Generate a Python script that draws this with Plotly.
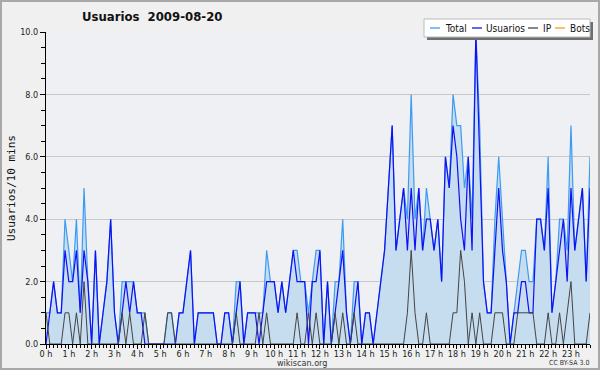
import plotly.graph_objects as go

# ---- data (10-minute slots, 0h00 .. 23h50) ----
slots = list(range(144))
hour_ticks = [0, 6, 12, 18, 24, 30, 36, 42, 48, 54, 60, 66, 72, 78, 84, 90, 96, 102, 108, 114, 120, 126, 132, 138]
hour_labels = ["0 h", "1 h", "2 h", "3 h", "4 h", "5 h", "6 h", "7 h", "8 h", "9 h", "10 h", "11 h",
               "12 h", "13 h", "14 h", "15 h", "16 h", "17 h", "18 h", "19 h", "20 h", "21 h", "22 h", "23 h"]

total = [1, 1, 2, 1, 1, 4, 3, 2, 4, 1, 5, 2, 0, 3, 0, 1, 2, 4, 1, 0,
         2, 2, 2, 2, 1, 1, 1, 0, 0, 0, 0, 0, 1, 1, 0, 1, 1, 2, 3, 0,
         1, 1, 1, 1, 1, 0, 0, 1, 1, 0, 2, 2, 0, 1, 1, 1, 1, 1, 3, 2,
         2, 1, 2, 1, 2, 3, 3, 2, 2, 1, 2, 3, 3, 0, 2, 0, 2, 2, 4, 1,
         0, 2, 2, 0, 1, 1, 0, 1, 2, 3, 5, 7, 3, 4, 5, 4, 8, 4, 5, 3,
         5, 4, 3, 4, 2, 6, 5, 8, 7, 7, 5, 6, 4, 10, 7, 2, 1, 1, 4, 6,
         4, 2, 0, 1, 2, 3, 3, 2, 2, 4, 4, 3, 6, 1, 2, 4, 4, 3, 7, 3,
         4, 5, 2, 6]
usuarios = [0, 1, 2, 1, 1, 3, 2, 2, 3, 1, 3, 2, 0, 3, 0, 1, 2, 4, 1, 0,
            1, 2, 1, 2, 1, 1, 0, 0, 0, 0, 0, 0, 0, 0, 0, 1, 1, 2, 3, 0,
            1, 1, 1, 1, 1, 0, 0, 1, 1, 0, 1, 2, 0, 1, 1, 1, 0, 1, 2, 2,
            2, 1, 2, 1, 2, 3, 2, 2, 2, 0, 2, 2, 3, 0, 2, 0, 1, 2, 3, 1,
            0, 1, 2, 0, 1, 1, 0, 1, 2, 3, 5, 7, 3, 4, 5, 3, 5, 3, 5, 3,
            4, 4, 3, 4, 2, 6, 5, 7, 6, 4, 3, 6, 3, 10, 6, 2, 1, 1, 3, 5,
            3, 2, 0, 1, 1, 2, 2, 1, 1, 4, 4, 3, 5, 1, 2, 3, 4, 2, 5, 3,
            4, 5, 2, 5]
ip = [1, 0, 0, 0, 0, 1, 1, 0, 1, 0, 2, 0, 0, 0, 0, 0, 0, 0, 0, 0,
      1, 0, 1, 0, 0, 0, 1, 0, 0, 0, 0, 0, 1, 1, 0, 0, 0, 0, 0, 0,
      0, 0, 0, 0, 0, 0, 0, 0, 0, 0, 1, 0, 0, 0, 0, 0, 1, 0, 1, 0,
      0, 0, 0, 0, 0, 0, 1, 0, 0, 1, 0, 1, 0, 0, 0, 0, 1, 0, 1, 0,
      0, 1, 0, 0, 0, 0, 0, 0, 0, 0, 0, 0, 0, 0, 0, 1, 3, 1, 0, 0,
      1, 0, 0, 0, 0, 0, 0, 1, 1, 3, 2, 0, 1, 0, 1, 0, 0, 0, 1, 1,
      1, 0, 0, 0, 1, 1, 1, 1, 1, 0, 0, 0, 1, 0, 0, 1, 0, 1, 2, 0,
      0, 0, 0, 1]
series_names = ["Total", "Usuarios", "IP", "Bots"]
series_colors = ["#3d9bf2", "#1010f5", "#444444", "#ffa010"]

# ---- geometry (pixels) ----
W, H = 600, 370
L, R, T, B = 46, 590, 32, 344


def px(x):
    return (x - L) / (R - L)


def py(y):
    return (B - y) / (B - T)


fig = go.Figure()
fig.add_trace(go.Scatter(x=slots, y=total, mode="lines", name="Total",
                         line=dict(color=series_colors[0], width=1.2),
                         fill="tozeroy", fillcolor="#c6dcef"))
fig.add_trace(go.Scatter(x=slots, y=usuarios, mode="lines", name="Usuarios",
                         line=dict(color=series_colors[1], width=1.2)))
fig.add_trace(go.Scatter(x=slots, y=ip, mode="lines", name="IP",
                         line=dict(color=series_colors[2], width=1)))

shapes = []
annotations = []

# outer frame
shapes.append(dict(type="rect", xref="paper", yref="paper",
                   x0=px(1), x1=px(W - 1), y0=py(H - 1), y1=py(1),
                   line=dict(color="#a8a8a8", width=2), fillcolor="rgba(0,0,0,0)", layer="above"))

# legend box with shadow
shapes.append(dict(type="rect", xref="paper", yref="paper",
                   x0=px(427), x1=px(593), y0=py(40), y1=py(22),
                   line=dict(width=0), fillcolor="#6e6e6e", layer="above"))
shapes.append(dict(type="rect", xref="paper", yref="paper",
                   x0=px(424), x1=px(590), y0=py(37), y1=py(19),
                   line=dict(color="#bbbbbb", width=1), fillcolor="#ffffff", layer="above"))
leg_line_x = [430, 472, 528, 555]
leg_text_x = [443, 484, 541, 568]
for name, col, lx, tx in zip(series_names, series_colors, leg_line_x, leg_text_x):
    shapes.append(dict(type="line", xref="paper", yref="paper",
                       x0=px(lx), x1=px(lx + 10), y0=py(28), y1=py(28),
                       line=dict(color=col, width=1.3), layer="above"))
    annotations.append(dict(text=name, xref="paper", yref="paper", x=px(tx), y=py(28),
                            xanchor="left", yanchor="middle", showarrow=False,
                            font=dict(family="DejaVu Sans Condensed, DejaVu Sans", size=10, color="#111")))

# title
annotations.append(dict(text="<b>Usuarios\u00a0\u00a02009-08-20</b>", xref="paper", yref="paper",
                        x=px(152), y=py(17), xanchor="center", yanchor="middle", showarrow=False,
                        font=dict(family="DejaVu Sans Condensed, DejaVu Sans", size=13, color="#111")))
# y-axis title
annotations.append(dict(text="Usuarios/10 mins", xref="paper", yref="paper",
                        x=px(11), y=py(188), xanchor="center", yanchor="middle", showarrow=False,
                        textangle=-90,
                        font=dict(family="DejaVu Sans Mono", size=11, color="#111")))
# x-axis title
annotations.append(dict(text="wikiscan.org", xref="paper", yref="paper",
                        x=px(302), y=py(363), xanchor="center", yanchor="middle", showarrow=False,
                        font=dict(family="DejaVu Sans Condensed, DejaVu Sans", size=9, color="#333")))
annotations.append(dict(text="CC BY-SA 3.0", xref="paper", yref="paper",
                        x=px(591), y=py(363), xanchor="right", yanchor="middle", showarrow=False,
                        font=dict(family="DejaVu Sans Condensed, DejaVu Sans", size=7, color="#333")))

fig.update_layout(
    width=W, height=H,
    margin=dict(l=L, r=W - R, t=T, b=H - B, pad=0),
    paper_bgcolor="#f0f0f0", plot_bgcolor="#eef0f3",
    showlegend=False,
    shapes=shapes, annotations=annotations,
    font=dict(family="DejaVu Sans Condensed, DejaVu Sans", size=9, color="#222"),
)
fig.update_xaxes(range=[0, 143], showline=True, linecolor="#000", linewidth=1,
                 tickmode="array", tickvals=hour_ticks, ticktext=hour_labels,
                 ticks="outside", ticklen=4, tickcolor="#000", tickwidth=1,
                 ticklabelstandoff=-3,
                 minor=dict(dtick=1, tick0=0, ticks="outside", ticklen=3, tickcolor="#000", showgrid=False),
                 showgrid=False, zeroline=False, tickfont=dict(size=9))
fig.update_yaxes(range=[0, 10], showline=True, linecolor="#000", linewidth=1,
                 dtick=2, tick0=0, tickformat=".1f",
                 ticks="outside", ticklen=5, tickcolor="#000", tickwidth=1,
                 minor=dict(dtick=0.5, ticks="outside", ticklen=4, tickcolor="#000", showgrid=False),
                 showgrid=True, gridcolor="#c8c8c8", gridwidth=1, zeroline=False, tickfont=dict(size=9))

fig.write_html("out.html", config={"displayModeBar": False})

# remove the default page margin so the figure sits at the window's top-left corner
with open("out.html", encoding="utf-8") as fh:
    page = fh.read()
page = page.replace("<head>", "<head><style>html,body{margin:0;padding:0;overflow:hidden;}</style>", 1)
with open("out.html", "w", encoding="utf-8") as fh:
    fh.write(page)
